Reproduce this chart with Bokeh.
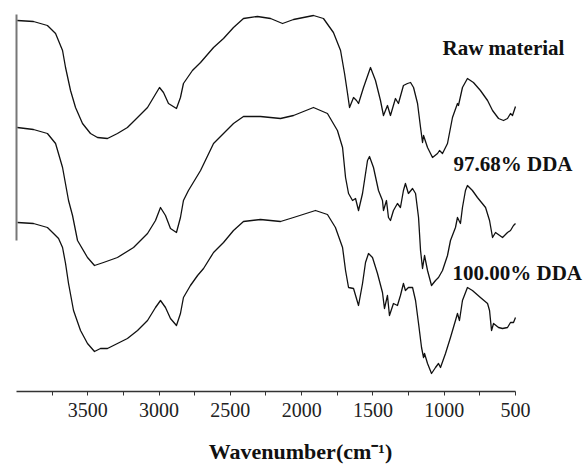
from bokeh.plotting import figure
from bokeh.models import Range1d, FixedTicker, LinearAxis
from bokeh.embed import file_html
from bokeh.resources import INLINE
from bokeh.core.properties import value

# ---- data (wavenumber in cm-1, offset transmittance in a.u.) ----
raw_wn = [3995, 3881, 3783, 3726, 3677, 3656, 3621, 3586, 3537, 3481, 3432, 3362, 3292, 3222, 3151, 3081,
          3039, 2997, 2969, 2934, 2878, 2850, 2829, 2766, 2709, 2618, 2548, 2478, 2408, 2310, 2218, 2134,
          2057, 1917, 1847, 1777, 1727, 1699, 1678, 1664, 1636, 1615, 1601, 1566, 1517, 1482, 1447, 1426,
          1398, 1377, 1342, 1321, 1286, 1258, 1236, 1215, 1187, 1166, 1152, 1145, 1117, 1082, 1047, 1033,
          1012, 977, 942, 907, 900, 872, 837, 795, 746, 696, 661, 619, 584, 556, 535, 521, 500]
raw_t = [371, 370, 366, 358, 341, 324, 301, 284, 268, 258, 254, 253, 258, 264, 274, 284,
         294, 304, 299, 288, 283, 294, 308, 321, 329, 344, 353, 364, 373, 375, 373, 368,
         372, 376, 373, 359, 341, 318, 298, 284, 294, 291, 288, 304, 324, 311, 291, 276,
         286, 276, 293, 288, 306, 308, 309, 304, 288, 264, 249, 256, 244, 234, 238, 241,
         238, 248, 274, 288, 286, 304, 313, 309, 301, 291, 281, 273, 271, 273, 278, 276, 285]

dda97_wn = [3995, 3881, 3783, 3726, 3677, 3635, 3607, 3572, 3502, 3453, 3390, 3292, 3179, 3081, 3025, 2990,
            2955, 2920, 2878, 2850, 2829, 2794, 2709, 2618, 2548, 2478, 2408, 2289, 2148, 2057, 1917, 1819,
            1749, 1713, 1692, 1671, 1643, 1622, 1601, 1573, 1538, 1524, 1496, 1461, 1433, 1426, 1405, 1391,
            1377, 1356, 1328, 1307, 1286, 1272, 1251, 1222, 1201, 1180, 1166, 1152, 1138, 1117, 1089, 1061,
            1040, 1012, 977, 956, 921, 907, 886, 872, 851, 837, 802, 767, 710, 682, 661, 640, 591, 556,
            535, 514, 500]
dda97_t = [264, 262, 258, 248, 224, 191, 176, 151, 134, 126, 129, 134, 144, 158, 171, 184,
           176, 163, 159, 174, 191, 201, 221, 248, 258, 268, 275, 275, 273, 276, 284, 278,
           261, 244, 214, 198, 191, 193, 181, 198, 231, 235, 224, 201, 191, 181, 191, 174,
           171, 181, 188, 184, 201, 208, 198, 203, 198, 174, 141, 123, 136, 121, 106, 111,
           114, 121, 136, 151, 164, 174, 168, 184, 201, 206, 201, 194, 184, 171, 154, 159, 154, 159,
           161, 166, 168]

dda100_wn = [3993, 3881, 3783, 3740, 3705, 3677, 3656, 3635, 3600, 3551, 3502, 3453, 3411, 3362, 3292, 3222,
             3151, 3081, 3025, 2990, 2955, 2920, 2878, 2850, 2829, 2780, 2730, 2688, 2618, 2548, 2478, 2408,
             2289, 2148, 2057, 1903, 1819, 1763, 1713, 1692, 1671, 1636, 1601, 1573, 1552, 1531, 1503, 1468,
             1433, 1419, 1398, 1384, 1356, 1328, 1307, 1286, 1272, 1251, 1222, 1201, 1180, 1159, 1145, 1138,
             1117, 1089, 1061, 1040, 1026, 991, 956, 921, 907, 893, 872, 837, 802, 746, 696, 682, 668, 654,
             619, 591, 556, 535, 514, 500]
dda100_t = [169, 168, 164, 158, 153, 144, 128, 108, 81, 61, 48, 40, 43, 43, 48, 53,
            61, 71, 84, 91, 84, 73, 66, 78, 94, 106, 116, 123, 139, 149, 161, 170,
            172, 170, 174, 181, 177, 164, 144, 121, 104, 103, 86, 108, 129, 138, 134, 118,
            99, 83, 96, 76, 88, 86, 96, 108, 101, 104, 104, 91, 68, 44, 34, 38,
            28, 18, 24, 28, 24, 38, 54, 71, 78, 71, 91, 104, 101, 94, 88, 81, 61, 68,
            64, 63, 64, 69, 69, 74]

series_names = ["Raw material", "97.68% DDA", "100.00% DDA"]
tick_values = [3500, 3000, 2500, 2000, 1500, 1000, 500]
minor_tick_values = [3750, 3250, 2750, 2250, 1750, 1250, 750]

SERIF = "Liberation Serif"

p = figure(width=584, height=466, output_backend="svg", toolbar_location=None,
           x_range=Range1d(4000, 16), y_range=Range1d(0, 391),
           min_border_left=16, min_border_right=0, min_border_top=0, min_border_bottom=75,
           y_axis_location=None)
p.outline_line_color = None
p.xgrid.visible = False
p.ygrid.visible = False
p.background_fill_color = "white"
p.border_fill_color = "white"

# x axis
xa = p.xaxis[0]
xa.bounds = (500, 4000)
xa.ticker = FixedTicker(ticks=tick_values, minor_ticks=minor_tick_values)
xa.axis_line_color = "#333333"
xa.axis_line_width = 1.5
xa.major_tick_line_color = "#333333"
xa.minor_tick_line_color = "#333333"
xa.major_tick_in = 0
xa.major_tick_out = 4
xa.minor_tick_in = 0
xa.minor_tick_out = 4
xa.major_label_text_font = SERIF
xa.major_label_text_font_size = "20px"
xa.major_label_text_color = "#222222"
xa.major_label_standoff = 7
xa.axis_label = "Wavenumber(cm\u207b\u00b9)"
xa.axis_label_text_font = SERIF
xa.axis_label_text_font_style = "bold"
xa.axis_label_text_font_size = "22px"
xa.axis_label_text_color = "#111111"
xa.axis_label_standoff = 19

# left spine (partial)
ya = LinearAxis(bounds=(151, 377), ticker=FixedTicker(ticks=[]))
ya.axis_line_color = "#777777"
ya.axis_line_width = 2
ya.major_tick_line_color = None
ya.minor_tick_line_color = None
ya.major_label_text_font_size = "0px"
p.add_layout(ya, "left")

# spectra
for wn, t in [(raw_wn, raw_t), (dda97_wn, dda97_t), (dda100_wn, dda100_t)]:
    p.line(wn, t, line_color="#111111", line_width=1.3, line_join="round")

# labels
label_x = [1012, 935, 942]
label_y = [344, 228, 119]
p.text(x=label_x, y=label_y, text=series_names, text_font=value(SERIF),
       text_font_style="bold", text_font_size="21px", text_color="#111111",
       text_baseline="middle", text_align="left")

open("out.html", "w").write(file_html(p, INLINE))
